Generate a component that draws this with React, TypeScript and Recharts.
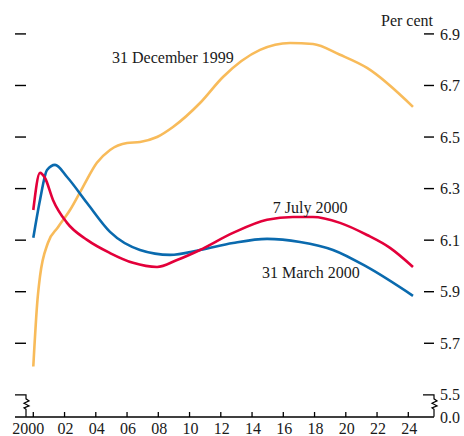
import React from "react";
import { LineChart, Line, XAxis, YAxis, ReferenceDot } from "recharts";

// x values are years after 2000
const decYears = [0, 0.27, 0.43, 0.94, 1.58, 2.35, 3.18, 4.07, 4.91, 6.0, 6.83, 7.92, 8.94, 10.67, 12.14, 14.51, 16.43, 17.9, 19.63, 21.36, 24.3];
const decValues = [5.61, 5.87, 5.96, 6.09, 6.15, 6.217, 6.307, 6.4, 6.45, 6.477, 6.481, 6.5, 6.539, 6.632, 6.733, 6.838, 6.865, 6.861, 6.819, 6.768, 6.617];

const marYears = [0, 0.43, 0.88, 1.39, 2.16, 3.44, 4.91, 6.83, 8.75, 10.67, 12.78, 14.96, 17.07, 19.18, 21.36, 24.3];
const marValues = [6.109, 6.256, 6.372, 6.392, 6.345, 6.244, 6.132, 6.062, 6.043, 6.062, 6.089, 6.105, 6.093, 6.062, 5.996, 5.884];

const julYears = [0, 0.43, 0.75, 1.26, 2.16, 3.44, 4.91, 6.38, 7.92, 9.2, 10.67, 12.78, 14.96, 16.62, 17.9, 19.63, 21.36, 22.83, 24.3];
const julValues = [6.217, 6.361, 6.341, 6.256, 6.167, 6.101, 6.05, 6.012, 5.996, 6.023, 6.062, 6.128, 6.179, 6.19, 6.19, 6.167, 6.12, 6.07, 5.996];

const X_TICKS = [0, 2, 4, 6, 8, 10, 12, 14, 16, 18, 20, 22, 24];
const AXIS_FLOOR = 5.414; // broken axis, drawn as 0.0
const Y_TICKS = [5.5, 5.7, 5.9, 6.1, 6.3, 6.5, 6.7, 6.9];

const zip = (xs: number[], ys: number[]) => xs.map((x, i) => ({ x, y: ys[i] }));

const FONT = "'Liberation Serif', 'Times New Roman', serif";
const TXT = { fontFamily: FONT, fontSize: 16, fill: "#1a1a1a" };

const breakPath = (x: number, y: number) =>
  `M${x},${y + 4} L${x + 3},${y + 6} L${x - 2},${y + 8.5} L${x + 3},${y + 11} L${x - 2},${y + 13} L${x},${y + 14.5} L${x},${y + 22}`;

function XTick(props: any) {
  const { x, y, payload } = props;
  const v = payload.value;
  const label = v === 0 ? "2000" : String(v).padStart(2, "0");
  return (
    <g>
      <line x1={x} x2={x} y1={y} y2={y - 5} stroke="#000" strokeWidth={1.3} />
      <text x={v === 0 ? x - 5 : x + 1} y={y + 17} textAnchor="middle" {...TXT}>
        {label}
      </text>
    </g>
  );
}

function LeftTick(props: any) {
  const { x, y, payload } = props;
  if (payload.value === 5.5) {
    return (
      <path d={`M${x},${y} L${x + 11},${y} ` + breakPath(x + 11, y).replace("M", "L")} fill="none" stroke="#000" strokeWidth={1.2} />
    );
  }
  return <line x1={x} x2={x + 11} y1={y} y2={y} stroke="#000" strokeWidth={1.4} />;
}

function RightTick(props: any) {
  const { x, y, payload } = props;
  const v = payload.value;
  if (v === AXIS_FLOOR) {
    return (
      <text x={x + 6} y={y} dy="0.35em" {...TXT}>
        0.0
      </text>
    );
  }
  return (
    <g>
      {v === 5.5 ? (
        <path d={`M${x - 11},${y} L${x},${y} ` + breakPath(x, y).replace("M", "L")} fill="none" stroke="#000" strokeWidth={1.2} />
      ) : (
        <line x1={x - 10} x2={x} y1={y} y2={y} stroke="#000" strokeWidth={1.4} />
      )}
      <text x={x + 6} y={y} dy="0.35em" {...TXT}>
        {v.toFixed(1)}
      </text>
      {v === 6.9 && (
        <text x={x - 1} y={y - 8} textAnchor="end" {...TXT}>
          Per cent
        </text>
      )}
    </g>
  );
}

function SeriesLabel(props: any) {
  const { viewBox, text } = props;
  return (
    <text x={viewBox.x + 1} y={viewBox.y + 1} {...TXT}>
      {text}
    </text>
  );
}

export default function App() {
  return (
    <div style={{ position: "absolute", left: 0, top: 0, width: 464, height: 436, background: "#fff" }}>
      <LineChart width={464} height={436} margin={{ top: 20, right: 0, bottom: 0, left: 0 }}>
        <XAxis
          type="number"
          dataKey="x"
          domain={[-1.171, 25.645]}
          ticks={X_TICKS}
          interval={0}
          height={19}
          tickSize={0}
          tickMargin={0}
          tickLine={false}
          axisLine={{ stroke: "#000", strokeWidth: 1.4 }}
          tick={<XTick />}
          allowDataOverflow
        />
        <YAxis
          yAxisId="left"
          type="number"
          domain={[AXIS_FLOOR, 6.954]}
          ticks={Y_TICKS}
          interval={0}
          width={15}
          tickSize={0}
          tickMargin={0}
          tickLine={false}
          axisLine={false}
          tick={<LeftTick />}
          allowDataOverflow
        />
        <YAxis
          yAxisId="right"
          orientation="right"
          type="number"
          domain={[AXIS_FLOOR, 6.954]}
          ticks={[AXIS_FLOOR, ...Y_TICKS]}
          interval={0}
          width={30}
          tickSize={0}
          tickMargin={0}
          tickLine={false}
          axisLine={false}
          tick={<RightTick />}
          allowDataOverflow
        />
        <Line yAxisId="right" data={zip(decYears, decValues)} dataKey="y" type="monotone" stroke="#F8BB5A" strokeWidth={2.6} dot={false} isAnimationActive={false} />
        <Line yAxisId="right" data={zip(marYears, marValues)} dataKey="y" type="monotone" stroke="#0A6AAE" strokeWidth={2.6} dot={false} isAnimationActive={false} />
        <Line yAxisId="right" data={zip(julYears, julValues)} dataKey="y" type="monotone" stroke="#E3003A" strokeWidth={2.6} dot={false} isAnimationActive={false} />
        <ReferenceDot yAxisId="right" x={5.04} y={6.787} r={1} fill="none" stroke="none" label={<SeriesLabel text="31 December 1999" />} />
        <ReferenceDot yAxisId="right" x={15.33} y={6.205} r={1} fill="none" stroke="none" label={<SeriesLabel text="7 July 2000" />} />
        <ReferenceDot yAxisId="right" x={14.64} y={5.953} r={1} fill="none" stroke="none" label={<SeriesLabel text="31 March 2000" />} />
      </LineChart>
    </div>
  );
}
